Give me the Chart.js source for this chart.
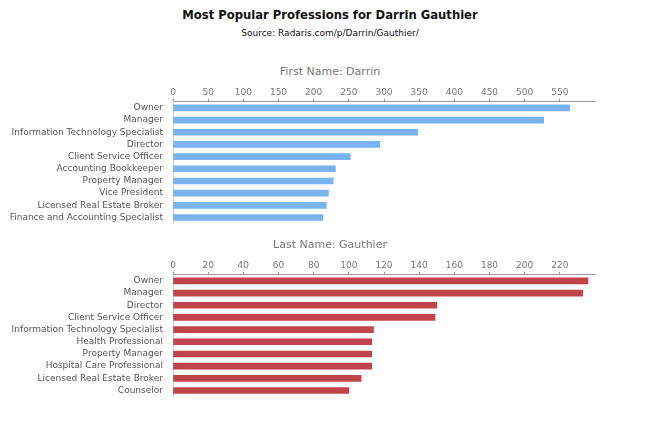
<!DOCTYPE html>
<html>
<head>
<meta charset="utf-8">
<script src="https://cdn.jsdelivr.net/npm/chart.js@4"></script>
<style>
  body { margin: 0; background: #fff; font-family: "DejaVu Sans", sans-serif; }
  #wrap { position: relative; width: 660px; height: 432px; }
  #title { position: absolute; top: 8px; width: 660px; text-align: center; font-size: 11.6px; font-weight: bold; color: #111; }
  #sub { position: absolute; top: 28px; width: 660px; text-align: center; font-size: 9px; color: #111; }
  .caption { position: absolute; left: 0; width: 660px; text-align: center; font-size: 11px; color: #777; line-height: 13px; }
  .box { position: absolute; left: 0; width: 660px; }
</style>
</head>
<body>
<div id="wrap">
  <div id="title">Most Popular Professions for Darrin Gauthier</div>
  <div id="sub">Source: Radaris.com/p/Darrin/Gauthier/</div>
  <div class="caption" style="top:65px">First Name: Darrin</div>
  <div class="box" style="top:82px;height:157px"><canvas id="firstChart"></canvas></div>
  <div class="caption" style="top:238px">Last Name: Gauthier</div>
  <div class="box" style="top:255px;height:157px"><canvas id="lastChart"></canvas></div>
</div>
<script>
// 名字統計
const firstLabels = ['Owner', 'Manager', 'Information Technology Specialist', 'Director',
    'Client Service Officer', 'Accounting Bookkeeper', 'Property Manager', 'Vice President',
    'Licensed Real Estate Broker', 'Finance and Accounting Specialist'];
const firstValues = [564, 527, 348, 294, 252, 231, 228, 221, 218, 213];

// 姓氏統計
const lastLabels = ['Owner', 'Manager', 'Director', 'Client Service Officer',
    'Information Technology Specialist', 'Health Professional', 'Property Manager',
    'Hospital Care Professional', 'Licensed Real Estate Broker', 'Counselor'];
const lastValues = [236, 233, 150, 149, 114, 113, 113, 113, 107, 100];

Chart.defaults.font.family = '"DejaVu Sans", sans-serif';
Chart.defaults.animation = false;

function makeChart(id, labels, values, color, max, step) {
    return new Chart(document.getElementById(id), {
        type: 'bar',
        data: {
            labels: labels,
            datasets: [{
                data: values,
                backgroundColor: color,
                barThickness: 6
            }]
        },
        options: {
            indexAxis: 'y',
            responsive: true,
            maintainAspectRatio: false,
            layout: { padding: { left: 0, right: 65, top: 4, bottom: 4 } },
            plugins: {
                legend: { display: false },
                tooltip: { enabled: false }
            },
            scales: {
                x: {
                    position: 'top',
                    min: 0,
                    max: max,
                    // 最後一個刻度不顯示
                    afterBuildTicks: s => { s.ticks = s.ticks.filter(t => t.value < max); },
                    ticks: { stepSize: step, color: '#777', font: { size: 9 }, padding: 1, maxRotation: 0 },
                    grid: { drawOnChartArea: false, tickLength: 3, color: '#999' },
                    border: { color: '#999' }
                },
                y: {
                    afterFit: s => { s.width = 173; },
                    ticks: { color: '#555', font: { size: 9 }, padding: 10, autoSkip: false },
                    grid: { display: false, drawTicks: false },
                    border: { color: '#ccc' }
                }
            }
        }
    });
}

makeChart('firstChart', firstLabels, firstValues, '#79b3f0', 600, 50);
makeChart('lastChart', lastLabels, lastValues, '#c0444a', 240, 20);
</script>
</body>
</html>
